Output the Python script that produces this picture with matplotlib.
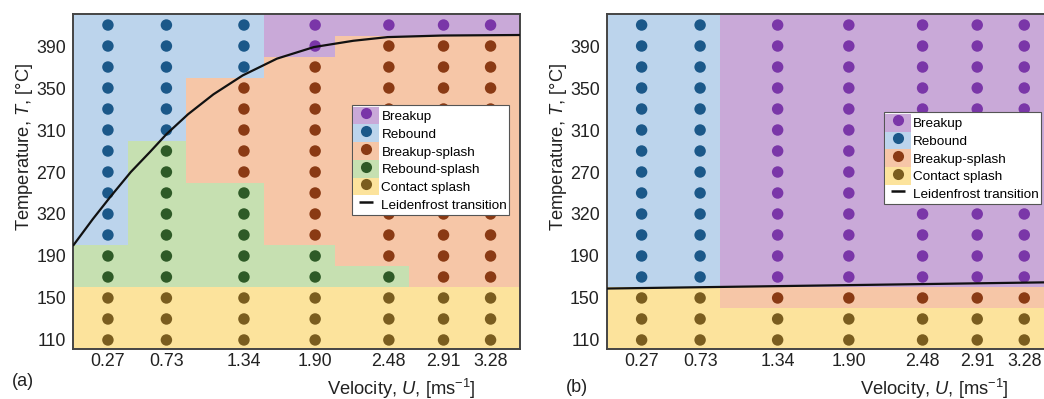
import numpy as np
import matplotlib
matplotlib.use("Agg")
import matplotlib.pyplot as plt
from matplotlib.colors import ListedColormap
from matplotlib.lines import Line2D
from matplotlib.patches import Patch

plt.rcParams['font.family'] = ['Liberation Sans', 'DejaVu Sans']
plt.rcParams['mathtext.fontset'] = 'custom'
plt.rcParams['mathtext.rm'] = 'Liberation Sans'
plt.rcParams['mathtext.it'] = 'Liberation Sans:italic'

# impact velocities (x) and surface temperature rows (y)
velocities = [0.27, 0.73, 1.34, 1.90, 2.48, 2.91, 3.28]
temperatures = [110, 130, 150, 170, 190, 210, 230, 250, 270, 290, 310, 330, 350, 370, 390, 410]
ytick_pos = [110, 150, 190, 230, 270, 310, 350, 390]
ytick_labels = ['110', '150', '190', '320', '270', '310', '350', '390']
xtick_labels = ['0.27', '0.73', '1.34', '1.90', '2.48', '2.91', '3.28']

# regime per column, bottom (110) to top (410)
# C contact splash, G rebound-splash, S breakup-splash, R rebound, B breakup
regimes_a = [
    "CCCGGRRRRRRRRRRR",
    "CCCGGGGGGGRRRRRR",
    "CCCGGGGGSSSSSRRR",
    "CCCGGSSSSSSSSSBB",
    "CCCGSSSSSSSSSSSB",
    "CCCSSSSSSSSSSSSB",
    "CCCSSSSSSSSSSSSB",
]
regimes_b = [
    "CCCRRRRRRRRRRRRR",
    "CCCRRRRRRRRRRRRR",
    "CCSBBBBBBBBBBBBB",
    "CCSBBBBBBBBBBBBB",
    "CCSBBBBBBBBBBBBB",
    "CCSBBBBBBBBBBBBB",
    "CCSBBBBBBBBBBBBB",
]

# Leidenfrost transition curves
leid_a_u = [0.0, 0.15, 0.29, 0.45, 0.6, 0.73, 0.9, 1.1, 1.33, 1.6, 1.89, 2.2, 2.47, 2.9, 3.51]
leid_a_T = [200.5, 225, 246.5, 270, 289, 306, 325, 344, 362, 378, 389, 395, 398.5, 400, 400.5]
leid_b_u = [0.0, 3.51]
leid_b_T = [159, 165]

codes = ['B', 'R', 'S', 'G', 'C']
names = {'B': 'Breakup', 'R': 'Rebound', 'S': 'Breakup-splash',
         'G': 'Rebound-splash', 'C': 'Contact splash'}
dot_col = {'B': '#7a36a8', 'R': '#1b5889', 'S': '#8a3a14', 'G': '#2e5a27', 'C': '#7a5d1f'}
bg_col = {'B': '#c9a9d8', 'R': '#bcd4ec', 'S': '#f6c6a7', 'G': '#c6e0b1', 'C': '#fce39c'}

XLIM = (-0.005, 3.51)
YLIM = (101.4, 420.5)


def panel(ax, regimes, lu, lT):
    # background regime map: cells end a bit right of each velocity column
    xe = [XLIM[0]] + [v + 0.155 for v in velocities[:-1]] + [XLIM[1]]
    ye = [t - 10 for t in temperatures] + [temperatures[-1] + 10]
    Z = np.array([[codes.index(c) for c in col] for col in regimes]).T
    cmap = ListedColormap([bg_col[c] for c in codes])
    ax.pcolormesh(xe, ye, Z, cmap=cmap, vmin=-0.5, vmax=len(codes) - 0.5,
                  antialiased=False, edgecolors='none', zorder=0)

    present = []
    for c in codes:
        xs, ys = [], []
        for v, col in zip(velocities, regimes):
            for t, r in zip(temperatures, col):
                if r == c:
                    xs.append(v)
                    ys.append(t)
        if xs:
            present.append(c)
            ax.scatter(xs, ys, s=68, color=dot_col[c], edgecolors='none', zorder=3)

    ax.plot(lu, lT, color='#111111', lw=1.6, zorder=4)

    ax.set_xlim(*XLIM)
    ax.set_ylim(*YLIM)
    ax.set_xticks(velocities)
    ax.set_xticklabels(xtick_labels)
    ax.set_yticks(ytick_pos)
    ax.set_yticklabels(ytick_labels)
    ax.tick_params(length=0, labelsize=12.8, colors='#222222')
    ax.tick_params(axis='x', pad=3)
    ax.tick_params(axis='y', pad=5)
    for sp in ax.spines.values():
        sp.set_color('#444444')
        sp.set_linewidth(1.4)

    ax.set_xlabel(r'Velocity, $\mathit{U}$, [ms$^{-1}$]', fontsize=13.2, color='#222222')
    ax.xaxis.set_label_coords(0.734, -0.083)
    ax.set_ylabel(r'Temperature, $\mathit{T}$, [°C]', fontsize=13.2, color='#222222')
    ax.yaxis.set_label_coords(-0.085, 0.603)

    handles, labels = [], []
    for c in present:
        handles.append((Patch(facecolor=bg_col[c], edgecolor='none'),
                        Line2D([], [], marker='o', linestyle='None', markersize=8,
                               markerfacecolor=dot_col[c], markeredgecolor='none')))
        labels.append(names[c])
    handles.append(Line2D([], [], marker='_', linestyle='None', markersize=10,
                          markeredgewidth=1.8, color='#111111'))
    labels.append('Leidenfrost transition')
    return handles, labels


def add_legend(ax, handles, labels, anchor):
    leg = ax.legend(handles, labels, loc='upper left', bbox_to_anchor=anchor, fontsize=9.7,
                    handlelength=1.93, handleheight=1.65, handletextpad=0.15, labelspacing=0,
                    borderpad=0.12, borderaxespad=0, fancybox=False, framealpha=1,
                    edgecolor='#555555')
    leg.get_frame().set_linewidth(0.8)
    leg.set_zorder(10)


fig = plt.figure(figsize=(10.44, 3.99), dpi=100)
ax_a = fig.add_axes([0.0699, 0.1253, 0.428, 0.8396])
ax_b = fig.add_axes([0.5811, 0.1253, 0.428, 0.8396])

h, l = panel(ax_a, regimes_a, leid_a_u, leid_a_T)
add_legend(ax_a, h, l, (0.624, 0.728))

h, l = panel(ax_b, regimes_b, leid_b_u, leid_b_T)
add_legend(ax_b, h, l, (0.62, 0.707))

fig.text(23 / 1044, 1 - 382 / 399, '(a)', fontsize=13, ha='center', va='center', color='#222222')
fig.text(577 / 1044, 1 - 388 / 399, '(b)', fontsize=13, ha='center', va='center', color='#222222')

fig.savefig('out.png', dpi=100)
